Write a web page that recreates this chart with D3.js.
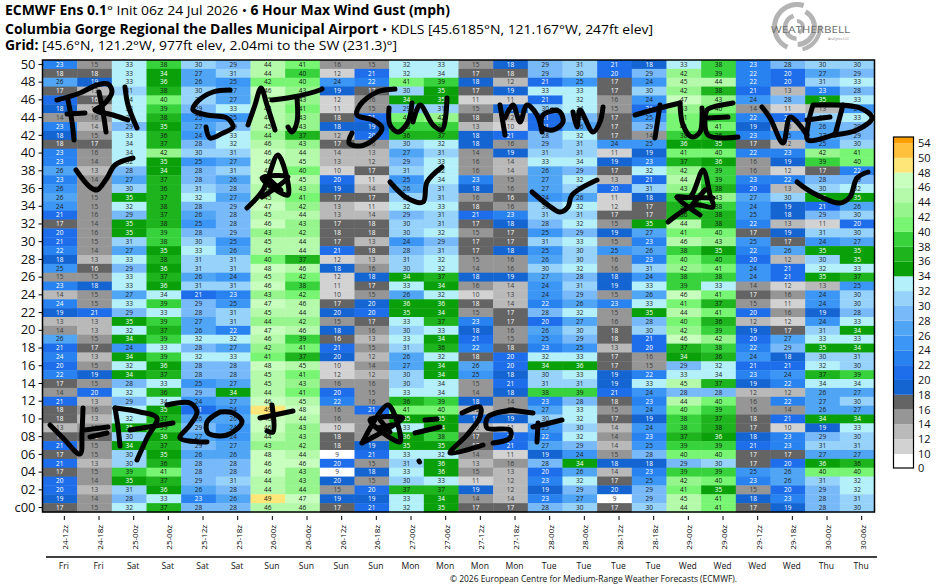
<!DOCTYPE html>
<html>
<head>
<meta charset="utf-8">
<script src="https://cdnjs.cloudflare.com/ajax/libs/d3/7.8.5/d3.min.js"></script>
<style>
  html, body { margin: 0; padding: 0; background: #fff; }
  text { font-family: "Open Sans", "Noto Sans", sans-serif; }
</style>
</head>
<body>
<div id="chart"></div>
<script>
// run hours and weekday under them
const hourLabels = ["24-12z","24-18z","25-00z","25-06z","25-12z","25-18z","26-00z","26-06z","26-12z","26-18z","27-00z","27-06z","27-12z","27-18z","28-00z","28-06z","28-12z","28-18z","29-00z","29-06z","29-12z","29-18z","30-00z","30-06z"];
const dayLabels = ["Fri","Fri","Sat","Sat","Sat","Sat","Sun","Sun","Sun","Sun","Mon","Mon","Mon","Mon","Tue","Tue","Tue","Tue","Wed","Wed","Wed","Wed","Thu","Thu"];
// members, top row first
const memberLabels = ["50","49","48","47","46","45","44","43","42","41","40","39","38","37","36","35","34","33","32","31","30","29","28","27","26","25","24","23","22","21","20","19","18","17","16","15","14","13","12","11","10","09","08","07","06","05","04","03","02","01","c00"];
// gusts in mph. a .7 means the printed number rounds up but the cell sits in the lower colour bin
const gustRows = [
[23,15,33,38,30,29,44,41, 15.7,15,32,33,15,18,29,31, 21,18,33,38,23,28,30,30],
[17.7,17.7,33,34,27,31,44,39.7, 11.7,21,32,33.7,17,17.7,29,30, 20,29,42,39,22,20,27,29],
[26,19,33,35.7,26,25,41.7,40, 24,22,41,39,18,12,21,25, 17,24,45,44,22,20,31,33],
[17,13,31,37.7,30,27,46,43, 19,17,30,35,17,19,33,33, 17,30,42,37.7,21,13,23,28],
[21,16,33.7,40,30,27,45,43, 11.7,15.7,34,35,11,11,21,32, 15.7,24,47,43,24,28,35,33],
[18,13.7,33,39,29,33,44,41, 11,15,29,31,15,18,30,33.7, 15,21,43,40,14,11,13,24],
[14,15.7,33,37.7,25,25,44,43, 17.7,21,41,42,17.7,12,21,28, 17,25,41,39,22,20,30,33],
[23,13.7,29,35,27,29,45,43, 18,19,38,38,13,10,21,26, 17,29,41,41,19,13,26,29],
[18,15,33,36,24,33,43.7,37, 12,20,36,37,18,21,28,32, 17,14,38,36,23,25,27,29],
[17.7,17,33.7,37,28,32,45.7,43, 17,15.7,30,32,18,15.7,29,31, 24,25,35.7,35,17,12,25,30],
[23,15.7,33.7,42,30,31,46,44, 13.7,13,27,31,14,19,31,31, 11,19,41,40,22,23,42,41],
[23,14,32,35,25,27,46,45, 13,12,29,33,15.7,13.7,33,33.7, 19,23,37,35.7,15.7,19,39,40],
[26,13,28,34,28,31,47,40, 10,17,31,32,15.7,13.7,26,29, 17,32,42,39,15.7,11.7,17,22],
[23,14,27,37,28,26,47,45, 20,11,25,33.7,23,15,27,32, 13,21,44,39,23,22,28,29],
[25.7,15,30,36,31,28,44,43, 19,13.7,26,31,18,15.7,27,31, 20,31,43,37.7,20,13,30,32],
[26,15,35,37,32,27,45,41, 17,17,31,31,15.7,16,24,26, 11,18,38,43,27,30,35,35],
[24,15,32,37.7,28,29,47,42, 13,11,32,33,17.7,15.7,30,32, 11.7,17,36,38,24,19,21,26],
[21,15.7,29,37,26,28,45,44, 13,13.7,29,31,21,23,31,31, 17,17,36,37.7,25,18,29,30],
[17,14,35,37.7,25,28,46,43, 17,17.7,30,31,17,18,28,32, 15,35,44,37.7,22,13,11,20],
[20,15.7,35,39,28,29,43,42, 17.7,17.7,30,32,15,17,25,29, 19,27,41,40,17,19,31,30],
[21,15,31,38,30,25,45,44, 17,13,24,29,17,17,31,33, 15,23,45.7,43,25,17,24,27],
[22,14,27,35,33,26,45,44, 21,17.7,28,31,17,18,25,30, 25,26,38,35,22,26,35,35],
[18,13,33,37.7,31,31,40,37, 11.7,13,31,32,15,15.7,26,30, 15.7,23,40,39.7,20,12,30,35],
[25,16,29,35.7,31,31,47.7,45.7, 18,15.7,30,32,14,15.7,30,32, 15.7,31,42,41,24,21,32,33],
[15,15,33,37,26,24,45,41.7, 11.7,18,34,37,18,19,27,28, 18,24,38,38,24,21,35,37],
[23,18,33,35.7,31,31,46,38, 11,17,33,34,15.7,13.7,24,31, 19,33,39,33,14,11.7,13,25],
[13.7,15,27,33.7,21,23,43,41.7, 10,15,26,32,10,13,24,29, 15,26,46,41,17,15.7,24,30],
[23.7,15,33,39,29,25,47,45.7, 17,19.7,35.7,35.7,17.7,13.7,22,26, 23,33,41,37,15,11,24,30],
[19,21,29,33,28,31,45,44, 19.7,20,35,34,15,17,28,32, 15,35,44,41,20,15.7,19,28],
[13,13,35,39,27,31,43.7,42, 15,17,33,37,23,17,20,27, 15.7,28,40,36,12,11.7,24,33],
[14,13,32,37,26,22,47,45.7, 18,15.7,30,33,18,15.7,26,30, 17.7,30,42,39,19,17,31,34],
[26,15,34,39,32,32,45.7,39, 16,13,33,34,21,15,25,29, 17.7,21,46,42,20,27,33,33],
[21,17,24,33,28,27,42,41, 21,15,31,36,22,17.7,23,25, 13,20,37,38,22,29,35,34],
[23.7,13,34,39,32,33,41,37, 19.7,12,26,32,17.7,20,32,33, 17,15.7,34,36,24,18,30,31],
[20,15,32,35.7,28,28,47.7,45, 10,14,27,34,26,20,34,35.7, 17,15,29,32,21,21,32,30],
[22,19,34,37,28,28,45,41, 11.7,12,30,34,25,18,30,33, 19,22,33,33.7,23,24,37,39],
[17,15,28,33,25,27,45,43, 15.7,15.7,30,33.7,15,21,31,31, 19,33,45,37,19,22,33.7,33.7],
[14,20,32,36,29,34,44,41, 20,15,33,33.7,14,18,38,39, 21,24,28,28,12,12,26,27],
[21,13,29,33.7,24,27,46,45, 22,15.7,36,39,18,14,23,28, 17.7,23,44,40,15.7,22,27,30],
[17.7,15.7,33,35,21,24,49,47.7, 15.7,21,41,40,12,14,27,33, 15,24,40,39,15.7,14,26,27],
[17.7,13,32,37,26,26,46,44, 15.7,15.7,35,35,18,19,30,32, 17,19,38,37,17.7,21,34,34],
[13,15,35,39,29,24,46,43, 10,14,33,34,12,11,25,30, 13.7,24,38,37.7,17,10,19,33],
[17.7,16,30,35.7,27,24,44,43, 17.7,15.7,35.7,38,17,20,22,32, 14,23,37,35.7,18,23,29,30],
[21,15,34,37,29,27,43,42, 17.7,19,35,35,17,21,27,29, 13.7,25,39,39,21,23,31,31],
[17,15,30,35,26,26,47.7,44, 9,21,33,32,14,11,19,24, 15,28,40,40,17,17,27,27],
[21,13,30,36,28,28,46,46, 20,15,31,35.7,13,15.7,28,34, 18,18,29,30,17,20,35.7,36],
[17,15,39,41,28,28,46,43, 9,18,33,35.7,15,13,20,26, 13.7,23,39,39,25,26,40,40],
[20,14,35,37,29,31,44,43, 19.7,15,30,33,11,12,23,32, 17,25,42,40,23,26,31,32],
[20,13,31,35.7,26,28,44,43.7, 15,20,37,37,19,12,19,29, 19.7,29,41,35,15,20,29,32],
[19,14,28,33,23,26,49,47, 19,19,33,34,14,13.7,23,27, 9,29,45,41,18,23,28,31],
[17,15,32,37,28,28,45.7,45.7, 17,21,32,35,17,17,28,30, 17,30,44,41,17,19,28,30]
];
// colour key
const binEdges = [10,12,14,16,18,20,22,24,26,28,30,32,34,36,38,40,42,44,46,48,50,54];
const binColors = ["#ffffff","#d2d2d2","#b9b9b9","#969696","#646464","#1464d2","#1e6eeb","#2882f0","#3c96f5","#50a5f5","#78b9fa","#96d2fa","#b4f0fa","#0aa00a","#1eb41e","#37d23c","#78f573","#96f58c","#b4faaa","#c8ffbe","#ffe678","#ffc03c","#ffa000"];
const keyLabels = ["0","10","12","14","16","18","20","22","24","26","28","30","32","34","36","38","40","42","44","46","48","50","54"];

// hand drawn notes on top of the chart, in page pixels
const penStrokes = [
  // FRI
  [[68,100],[72,122],[74,140]], [[57,100],[80,93],[97,85],[108,84],[112,92],[103,105],[95,110],[113,115],[128,120]], [[67,114],[85,113]],
  [[99,92],[103,112],[106,132]], [[125,87],[128,105],[137,128]],
  // SAT
  [[230,90],[213,92],[197,102],[193,110],[207,115],[227,118],[233,127],[223,133],[210,138],[206,127]],
  [[248,125],[255,105],[261,88],[267,105],[275,130]], [[272,100],[293,97],[320,90],[322,89]], [[297,98],[297,122],[292,132],[288,127]],
  // SUN
  [[395,89],[377,92],[360,105],[357,115],[373,120],[382,128],[373,140],[360,146],[349,143],[352,133]],
  [[389,108],[390,125],[398,132],[408,122],[412,103]], [[413,122],[420,105],[433,125],[442,130],[447,98]],
  // MON
  [[500,105],[505,135]], [[505,118],[513,105],[520,122],[527,105],[537,115],[542,132]],
  [[557,110],[543,115],[542,127],[553,130],[563,122],[560,112],[552,110]], [[573,112],[577,127],[580,110],[593,132],[600,122],[603,107]],
  // TUE
  [[635,115],[660,108],[680,103]], [[660,105],[655,138]], [[680,103],[683,125],[692,137],[700,132],[702,108]],
  [[733,103],[713,107],[707,110],[708,135],[738,137]], [[708,118],[728,117]],
  // WED
  [[762,107],[770,118],[783,143],[790,117],[797,122],[807,135]], [[813,105],[808,125],[808,140],[833,135]], [[807,120],[830,117]],
  [[843,105],[835,135]], [[815,105],[860,108],[872,118],[857,130],[833,135]],
  // checks and stars
  [[76,170],[90,187],[97,190],[107,178],[115,165],[133,158]],
  [[247,208],[263,190],[278,155],[288,195],[262,178],[288,177],[262,197]], [[270,180],[281,190]],
  [[390,182],[407,198],[423,202],[427,182],[442,167]],
  [[532,192],[548,205],[560,212],[568,207],[572,195],[597,180]],
  [[668,222],[695,205],[713,207],[710,195],[703,170],[690,197],[677,197],[700,215]], [[677,197],[713,198]], [[692,205],[705,190]],
  [[797,182],[813,193],[840,203],[850,197],[857,178],[868,172]],
  // V=17-20+
  [[50,425],[63,438],[80,454],[82,432],[83,408]], [[85,430],[108,427]], [[90,437],[107,433]],
  [[115,408],[118,427],[120,446]], [[115,408],[140,412],[157,418],[147,438],[137,460]], [[130,430],[173,423]],
  [[167,405],[190,403],[197,412],[190,425],[180,438],[207,442]],
  [[220,412],[207,422],[208,433],[227,435],[242,422],[233,413],[220,412]],
  [[272,405],[273,432],[267,431]], [[260,418],[293,411]],
  // star=25+
  [[362,443],[388,405],[400,442],[370,420],[403,418],[362,443]], [[378,428],[392,425]], [[380,420],[390,432]],
  [[415,433],[440,427]], [[425,420],[437,419]],
  [[462,413],[480,407],[480,417],[467,435],[450,453],[483,445]],
  [[513,410],[488,417],[487,428],[510,430],[510,438],[493,443]], [[510,410],[533,413]],
  [[538,423],[537,442]], [[533,427],[562,420]],
  [[419,461],[419.5,462]]
];

const width = 941, height = 588;
const plotLeft = 42.5, plotRight = 874.5, plotTop = 60, plotBottom = 512;

const svg = d3.select("#chart").append("svg")
  .attr("width", width).attr("height", height)
  .style("display", "block");

// titles
function titleLine(y, len, parts) {
  const t = svg.append("text").attr("x", 5).attr("y", y)
    .attr("font-size", 13.4).attr("fill", "#000")
    .attr("textLength", len).attr("lengthAdjust", "spacingAndGlyphs");
  parts.forEach(p => t.append("tspan").attr("font-weight", p[1] ? 700 : 400).text(p[0]));
}
titleLine(15, 445, [["ECMWF Ens 0.1",1],["° Init 06z 24 Jul 2026 • ",0],["6 Hour Max Wind Gust (mph)",1]]);
titleLine(33.5, 648, [["Columbia Gorge Regional the Dalles Municipal Airport",1],[" • KDLS [45.6185°N, 121.167°W, 247ft elev]",0]]);
titleLine(50, 392, [["Grid:",1],[" [45.6°N, 121.2°W, 977ft elev, 2.04mi to the SW (231.3)°]",0]]);

// logo, a rough swirl
const logo = svg.append("g").attr("transform", "translate(797,27)");
const arc = d3.arc();
[[25,5,-2.7,0.3],[20,5,0.5,3.1],[14,4.5,-3.1,-0.3],[8,4,0,2.8],[25,4,1.5,2.9]].forEach(a => {
  logo.append("path").attr("fill", "#b4b4b4")
    .attr("d", arc({innerRadius: a[0] - a[1], outerRadius: a[0], startAngle: a[2], endAngle: a[3]}));
});
svg.append("text").attr("x", 771).attr("y", 33).attr("font-family", "Liberation Serif")
  .attr("font-size", 9.5).attr("fill", "#6e6e6e")
  .attr("textLength", 79).attr("lengthAdjust", "spacingAndGlyphs").text("WEATHERBELL");
svg.append("text").attr("x", 828).attr("y", 39.5).attr("font-size", 3.5).attr("fill", "#8a8a8a").text("Analytics LLC");

// scales
const x = d3.scaleBand().domain(hourLabels).range([plotLeft, plotRight]);
const y = d3.scaleBand().domain(memberLabels).range([plotTop, plotBottom]);
const color = d3.scaleThreshold().domain(binEdges).range(binColors);

function inkColor(v) {
  if (v < 16) return "#3a3a3a";
  if (v < 24) return "#ffffff";
  if (v < 34) return "#222";
  if (v < 36) return "#ffffff";
  return "#111";
}

const cells = [];
gustRows.forEach((row, r) => row.forEach((v, c) => cells.push({member: memberLabels[r], hour: hourLabels[c], v: v})));

svg.append("g").selectAll("rect").data(cells).enter().append("rect")
  .attr("x", d => x(d.hour)).attr("y", d => y(d.member))
  .attr("width", x.bandwidth() + 0.4).attr("height", y.bandwidth() + 0.4)
  .attr("fill", d => color(d.v));

svg.append("g").selectAll("text").data(cells).enter().append("text")
  .attr("x", d => x(d.hour) + x.bandwidth() / 2)
  .attr("y", d => y(d.member) + y.bandwidth() / 2 + 2.3)
  .attr("text-anchor", "middle").attr("font-size", 6.5)
  .attr("fill", d => inkColor(d.v))
  .text(d => Math.round(d.v));

// frame
svg.append("rect").attr("x", plotLeft).attr("y", plotTop).attr("width", plotRight - plotLeft).attr("height", plotBottom - plotTop)
  .attr("fill", "none").attr("stroke", "#000").attr("stroke-width", 1.5);

// left axis, every other member
const yAxis = d3.axisLeft(y)
  .tickValues(memberLabels.filter((m, i) => i % 2 === 0))
  .tickSize(4).tickSizeOuter(0).tickPadding(3);
const yG = svg.append("g").attr("transform", `translate(${plotLeft},0)`).call(yAxis);
yG.select(".domain").remove();
yG.selectAll("line").attr("stroke-width", 1);
yG.selectAll("text").attr("font-size", 13).attr("fill", "#111")
  .attr("font-family", '"Open Sans", sans-serif');

// bottom axis, ticks sit a little right of the cell centres
const xTicks = d3.scalePoint().domain(hourLabels)
  .range([x(hourLabels[0]) + x.bandwidth() / 2 + 4, x(hourLabels[23]) + x.bandwidth() / 2 + 4]);
const xG = svg.append("g").attr("transform", `translate(0,${plotBottom + 4})`)
  .call(d3.axisBottom(xTicks).tickSize(4).tickPadding(3).tickSizeOuter(0));
xG.select(".domain").remove();
xG.selectAll("text")
  .attr("font-size", 8).attr("fill", "#000").attr("font-family", '"Open Sans", sans-serif')
  .attr("text-anchor", "end").attr("dx", 0).attr("dy", 0)
  .attr("transform", "translate(-3,9) rotate(-90)");

// weekday row
svg.append("line").attr("x1", 46).attr("x2", 877).attr("y1", 557).attr("y2", 557)
  .attr("stroke", "#000").attr("stroke-width", 1.5);
svg.append("g").selectAll("text").data(dayLabels).enter().append("text")
  .attr("x", (d, i) => xTicks(hourLabels[i])).attr("y", 569)
  .attr("text-anchor", "middle").attr("font-size", 8.6).attr("fill", "#111")
  .text(d => d);

svg.append("text").attr("x", 450).attr("y", 582).attr("font-size", 8.8).attr("fill", "#111")
  .attr("textLength", 287).attr("lengthAdjust", "spacingAndGlyphs")
  .text("© 2026 European Centre for Medium-Range Weather Forecasts (ECMWF).");

// colour key
const keyBottom = 468, keyTop = 137;
const keyScale = d3.scaleLinear().domain([1, keyLabels.length - 1]).range([454, 143]);
const keyPos = i => i === 0 ? keyBottom : keyScale(i);
svg.append("g").selectAll("rect").data(binColors).enter().append("rect")
  .attr("x", 893.5).attr("width", 20)
  .attr("y", (d, i) => i === binColors.length - 1 ? keyTop : keyPos(i + 1))
  .attr("height", (d, i) => i === binColors.length - 1 ? keyPos(i) - keyTop : keyPos(i) - keyPos(i + 1))
  .attr("fill", d => d);
svg.append("rect").attr("x", 893.5).attr("y", keyTop).attr("width", 20).attr("height", keyBottom - keyTop)
  .attr("fill", "none").attr("stroke", "#000").attr("stroke-width", 1.2);
svg.append("g").selectAll("text").data(keyLabels).enter().append("text")
  .attr("x", 918).attr("y", (d, i) => keyPos(i) + 4)
  .attr("font-size", 11).attr("fill", "#111")
  .text(d => d);

// pen notes
const pen = d3.line().curve(d3.curveCatmullRom.alpha(0.5));
svg.append("g").selectAll("path").data(penStrokes).enter().append("path")
  .attr("d", d => pen(d))
  .attr("fill", "none").attr("stroke", "#000").attr("stroke-width", 5)
  .attr("stroke-linecap", "round").attr("stroke-linejoin", "round");
</script>
</body>
</html>
